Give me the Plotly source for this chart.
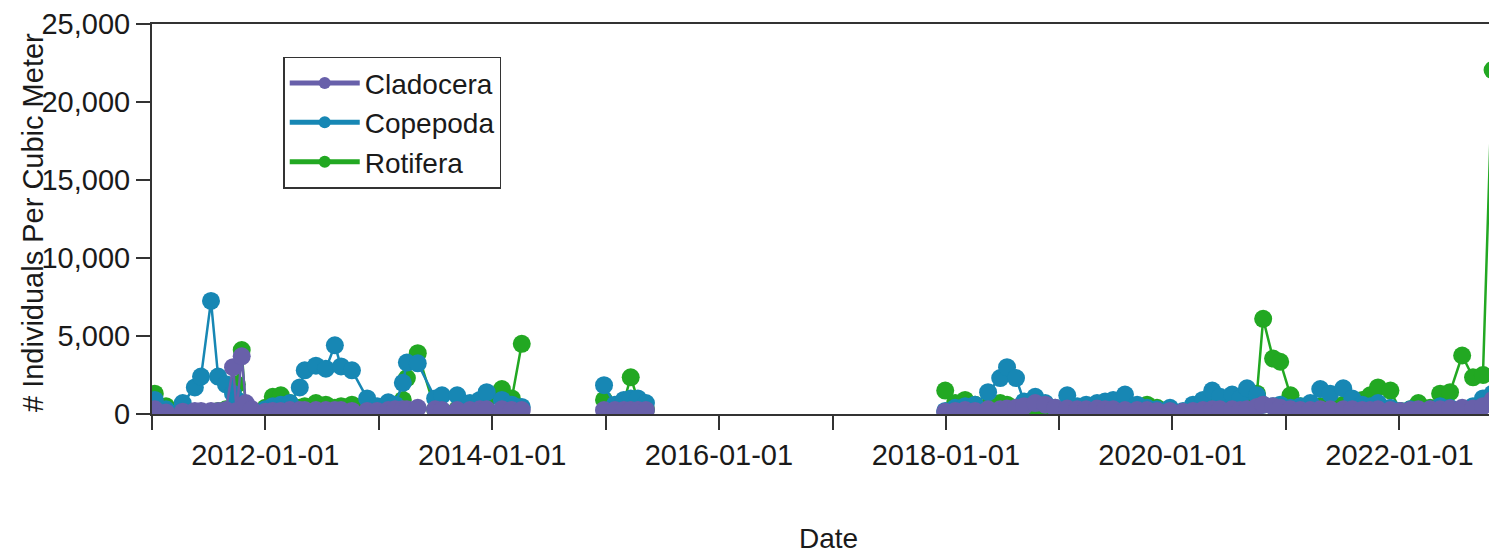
import plotly.graph_objects as go

# sampling dates (None rows break the line between sampling campaigns)
dates = [
    "2011-01-10", "2011-02-15", "2011-04-10", "2011-05-19", "2011-06-08", "2011-07-10",
    "2011-08-02", "2011-08-27", "2011-09-19", "2011-10-01", "2011-10-17", "2011-10-30",
    "2011-11-18",
    "2012-01-01", "2012-01-25", "2012-02-20", "2012-03-20", "2012-04-21", "2012-05-07",
    "2012-06-12", "2012-07-14", "2012-08-12", "2012-09-01", "2012-10-06", "2012-11-24",
    "2012-12-26",
    "2013-01-31", "2013-02-22", "2013-03-19", "2013-04-01", "2013-05-06", "2013-07-01",
    "2013-07-23", "2013-09-10", "2013-10-21", "2013-11-22", "2013-12-14", "2014-02-01",
    "2014-03-05", "2014-04-06",
    "2014-08-01",
    "2014-12-27", "2015-01-31", "2015-03-01", "2015-03-23", "2015-04-15", "2015-05-11",
    "2016-06-01",
    "2017-12-30", "2018-01-31", "2018-03-04", "2018-04-05", "2018-05-17", "2018-06-25",
    "2018-07-17", "2018-08-15", "2018-09-10", "2018-10-16", "2018-11-17", "2018-12-19",
    "2019-01-27", "2019-02-28", "2019-03-29", "2019-05-03", "2019-05-29", "2019-06-24",
    "2019-08-01", "2019-09-09", "2019-10-11", "2019-11-12", "2019-12-24", "2020-02-04",
    "2020-03-07", "2020-04-08", "2020-05-08", "2020-06-02", "2020-07-11", "2020-08-06",
    "2020-08-28", "2020-09-29", "2020-10-19", "2020-11-20", "2020-12-13", "2021-01-15",
    "2021-02-16", "2021-03-20", "2021-04-21", "2021-05-23", "2021-07-04", "2021-08-02",
    "2021-09-03", "2021-09-29", "2021-10-24", "2021-12-03", "2022-01-04", "2022-02-05",
    "2022-03-03", "2022-04-10", "2022-05-12", "2022-06-13", "2022-07-22", "2022-08-26",
    "2022-09-27", "2022-10-28", "2022-12-07",
]

cladocera = [
    300, 100, 150, 200, 200, 200, 200, 250, 3000, 200, 3700, 700, 300,
    150, 200, 200, 250, 250, 250, 250, 250, 250, 250, 200, 200, 200,
    250, 300, 300, 300, 400, 300, 250, 250, 250, 300, 300, 300, 250, 250,
    None,
    250, 250, 250, 250, 250, 250,
    None,
    150, 200, 250, 200, 300, 300, 350, 400, 500, 700, 600, 400,
    350, 300, 300, 350, 300, 300, 250, 250, 250, 200, 200, 150,
    200, 250, 300, 300, 300, 250, 300, 450, 600, 500, 400, 300,
    250, 250, 300, 300, 300, 300, 250, 250, 300, 250, 200, 250,
    300, 300, 300, 350, 400, 350, 500, 900, 1200,
]

copepoda = [
    900, 300, 700, 1700, 2400, 7250, 2400, 1900, 1300, 900, 500, 300, 200,
    300, 500, 600, 700, 1700, 2800, 3100, 2900, 4400, 3050, 2800, 1000, 500,
    750, 600, 2000, 3300, 3250, 1000, 1200, 1200, 700, 900, 1400, 900, 600, 450,
    None,
    1850, 600, 900, 1000, 1000, 700,
    None,
    200, 400, 500, 600, 1400, 2300, 3000, 2300, 800, 1100, 700, 400,
    1200, 500, 600, 700, 800, 900, 1250, 600, 400, 300, 400, 200,
    600, 900, 1500, 1100, 1250, 1000, 1650, 1200, 600, 500, 600, 400,
    500, 700, 1600, 1300, 1650, 1000, 600, 500, 700, 400, 200, 300,
    200, 300, 500, 400, 300, 500, 1000, 1300, 2800,
]

rotifera = [
    1300, 500, 150, 100, 150, 150, 200, 300, 300, 1900, 4100, 300, 150,
    400, 1100, 1200, 700, 400, 500, 700, 600, 400, 500, 600, 300, 200,
    200, 400, 900, 2300, 3900, 300, 200, 300, 500, 600, 900, 1600, 1000, 4500,
    None,
    900, 400, 800, 2350, 900, 300,
    None,
    1500, 700, 900, 600, 500, 700, 600, 400, 300, 250, 200, 150,
    200, 300, 500, 400, 600, 700, 500, 500, 600, 400, 300, 100,
    300, 500, 400, 400, 500, 600, 800, 1300, 6100, 3550, 3350, 1200,
    500, 400, 500, 700, 600, 800, 900, 1200, 1700, 1500, 200, 300,
    700, 400, 1300, 1400, 3750, 2350, 2500, 22050, 1800,
]

series = [
    ("Rotifera", rotifera, "#22a822"),
    ("Copepoda", copepoda, "#1787b4"),
    ("Cladocera", cladocera, "#6860aa"),
]

year_ticks = ["2011-01-01", "2012-01-01", "2013-01-01", "2014-01-01", "2015-01-01",
              "2016-01-01", "2017-01-01", "2018-01-01", "2019-01-01", "2020-01-01",
              "2021-01-01", "2022-01-01"]
year_labels = ["", "2012-01-01", "", "2014-01-01", "", "2016-01-01", "",
               "2018-01-01", "", "2020-01-01", "", "2022-01-01"]

fig = go.Figure()
for name, vals, color in series:
    fig.add_trace(go.Scatter(
        x=dates, y=vals, name=name, mode="lines+markers",
        line=dict(color=color, width=2.5),
        marker=dict(color=color, size=18),
        connectgaps=False, showlegend=False,
    ))
    # legend-only entry so the key can use a thinner line
    fig.add_trace(go.Scatter(
        x=[None], y=[None], name=name, mode="lines+markers",
        line=dict(color=color, width=1.5),
        marker=dict(color=color, size=12),
    ))

axis_col = "#333333"
fig.update_layout(
    width=1497, height=553,
    margin=dict(l=144, r=0, t=14, b=147),
    paper_bgcolor="white", plot_bgcolor="white",
    font=dict(family="Arial, Liberation Sans, sans-serif", size=29, color="#1a1a1a"),
    showlegend=True,
    legend=dict(
        x=0.097, y=0.916, xanchor="left", yanchor="top",
        traceorder="reversed", itemsizing="constant", itemwidth=70,
        bgcolor="white", bordercolor=axis_col, borderwidth=1.5,
        font=dict(size=28),
    ),
    xaxis=dict(
        type="date",
        range=["2011-01-01", "2022-12-07"],
        tickvals=year_ticks, ticktext=year_labels,
        ticks="outside", ticklen=14, tickwidth=2, tickcolor=axis_col,
        showline=True, linecolor=axis_col, linewidth=2, mirror=True,
        showgrid=False, zeroline=False,
        title=dict(text="Date", standoff=59, font=dict(size=28)),
    ),
    yaxis=dict(
        range=[0, 25000],
        tickvals=[0, 5000, 10000, 15000, 20000, 25000],
        tickformat=",d", tickfont=dict(size=29),
        ticklabeloverflow="allow",
        ticks="outside", ticklen=14, tickwidth=2, tickcolor=axis_col,
        showline=True, linecolor=axis_col, linewidth=2,
        showgrid=False, zeroline=False,
    ),
    annotations=[dict(
        text="# Individuals Per Cubic Meter", textangle=-90,
        xref="paper", yref="paper", x=-0.088, y=0.492,
        xanchor="center", yanchor="middle", showarrow=False,
        font=dict(size=29),
    )],
)

fig.write_html("out.html")
